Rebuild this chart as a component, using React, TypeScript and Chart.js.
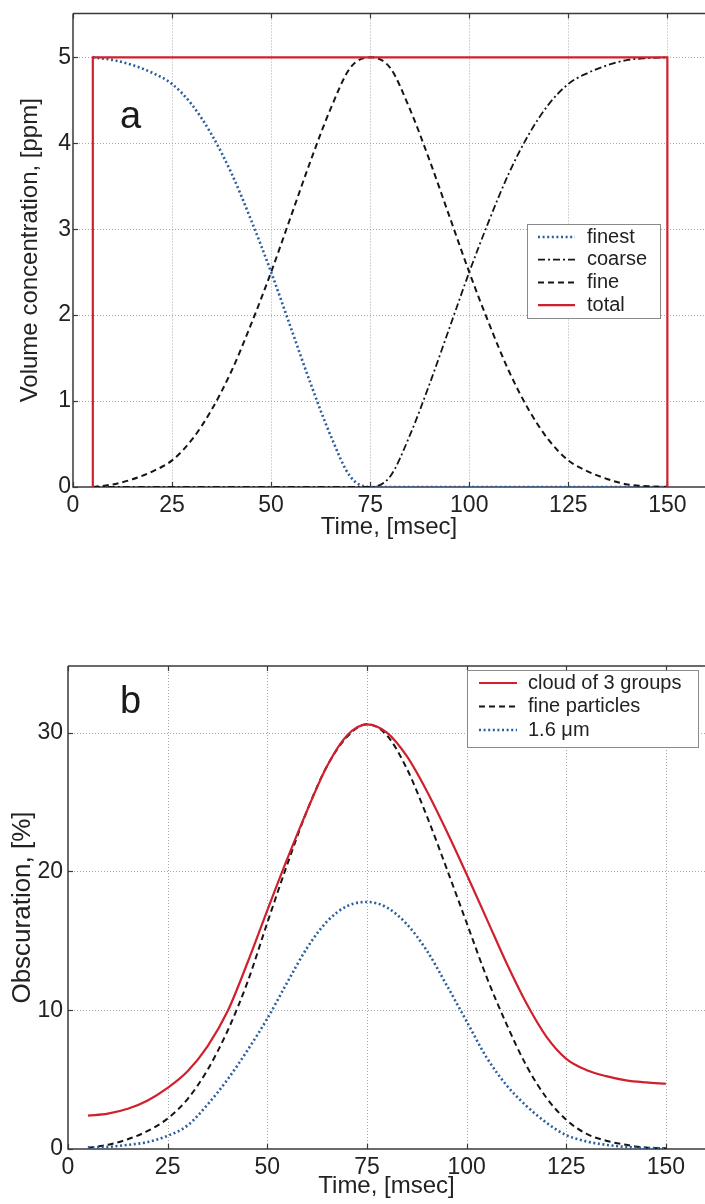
import React, { useEffect, useRef } from 'react';
import { Chart, registerables } from 'chart.js';

Chart.register(...registerables);

// ---------- Panel a data ----------
const timeA = [5, 10, 15, 20, 25, 30, 35, 40, 45, 50, 55, 60, 65, 70, 75, 80, 85, 90, 95, 100, 105, 110, 115, 120, 125, 130, 135, 140, 145, 150];
const finestA = [5.0, 4.97, 4.91, 4.82, 4.69, 4.45, 4.1, 3.65, 3.1, 2.5, 1.85, 1.2, 0.6, 0.12, 0.0, 0, 0, 0, 0, 0, 0, 0, 0, 0, 0, 0, 0, 0, 0, 0];
const coarseA = [0, 0, 0, 0, 0, 0, 0, 0, 0, 0, 0, 0, 0, 0, 0.0, 0.12, 0.6, 1.2, 1.85, 2.5, 3.1, 3.65, 4.1, 4.45, 4.69, 4.82, 4.91, 4.97, 4.99, 5.0];
const fineA = [0.0, 0.03, 0.09, 0.18, 0.31, 0.55, 0.9, 1.35, 1.9, 2.5, 3.15, 3.8, 4.4, 4.88, 5.0, 4.88, 4.4, 3.8, 3.15, 2.5, 1.9, 1.35, 0.9, 0.55, 0.31, 0.18, 0.09, 0.03, 0.01, 0.0];
const totalTimeA = [5, 5, 150, 150];
const totalA = [0, 5, 5, 0];
const yTicksA = [0, 1, 2, 3, 4, 5];
const legendLabelsA = ['finest', 'coarse', 'fine', 'total'];

// ---------- Panel b data ----------
const timeB = [5, 10, 15, 20, 25, 30, 35, 40, 45, 50, 55, 60, 65, 70, 75, 80, 85, 90, 95, 100, 105, 110, 115, 120, 125, 130, 135, 140, 145, 150];
const cloudB = [2.4, 2.55, 2.9, 3.5, 4.4, 5.6, 7.4, 9.9, 13.4, 17.2, 20.9, 24.4, 27.6, 29.8, 30.6, 30.0, 28.3, 25.8, 22.9, 19.8, 16.6, 13.4, 10.5, 8.1, 6.5, 5.7, 5.25, 4.95, 4.8, 4.7];
const fineParticlesB = [0.1, 0.3, 0.7, 1.3, 2.2, 3.6, 5.7, 8.5, 12.0, 16.3, 20.5, 24.4, 27.6, 29.7, 30.6, 29.8, 27.4, 24.0, 20.2, 16.3, 12.4, 9.0, 6.0, 3.7, 2.1, 1.1, 0.6, 0.3, 0.1, 0.05];
const micronB = [0.1, 0.15, 0.3, 0.5, 0.95, 1.7, 3.2, 5.0, 7.1, 9.4, 12.0, 14.5, 16.4, 17.5, 17.8, 17.4, 16.2, 14.3, 11.8, 9.2, 6.6, 4.6, 3.1, 1.9, 1.0, 0.55, 0.3, 0.15, 0.08, 0.05];
const yTicksB = [0, 10, 20, 30];
const legendLabelsB = ['cloud of 3 groups', 'fine particles', '1.6 μm'];

const xTicks = [0, 25, 50, 75, 100, 125, 150];

const FONT = '"Liberation Sans", Arial, Helvetica, sans-serif';
const BLUE = '#2a5e9e';
const RED = '#d0202c';
const BLACK = '#151515';

const pts = (xs: number[], ys: number[]) => xs.map((x, i) => ({ x, y: ys[i] }));

type LegendRow = { label: string; color: string; width: number; dash: number[] };
type PanelCfg = {
  letter: string;
  letterX: number;
  letterY: number;
  box: { x: number; y: number; w: number; h: number; first: number; gap: number; sx1: number; sx2: number; tx: number };
  rows: LegendRow[];
};

function panelPlugin(cfg: PanelCfg) {
  return {
    id: 'panel',
    beforeDatasetsDraw(chart: any) {
      const { ctx, chartArea: a, scales } = chart;
      const x = scales.x;
      const y = scales.y;
      ctx.save();
      // dotted grid
      ctx.strokeStyle = '#a8a8a8';
      ctx.lineWidth = 1;
      ctx.setLineDash([1, 2]);
      x.ticks.forEach((t: any) => {
        if (t.value === 0) return;
        const px = Math.round(x.getPixelForValue(t.value)) + 0.5;
        ctx.beginPath();
        ctx.moveTo(px, a.top);
        ctx.lineTo(px, a.bottom);
        ctx.stroke();
      });
      y.ticks.forEach((t: any) => {
        if (t.value === 0) return;
        const py = Math.round(y.getPixelForValue(t.value)) + 0.5;
        ctx.beginPath();
        ctx.moveTo(a.left, py);
        ctx.lineTo(a.right, py);
        ctx.stroke();
      });
      ctx.setLineDash([]);
      // axes frame
      ctx.strokeStyle = '#3a3a3a';
      ctx.lineWidth = 1.5;
      ctx.beginPath();
      ctx.moveTo(a.left, a.top);
      ctx.lineTo(a.right, a.top);
      ctx.moveTo(a.left, a.top);
      ctx.lineTo(a.left, a.bottom);
      ctx.lineTo(a.right, a.bottom);
      ctx.stroke();
      // inward tick marks
      ctx.lineWidth = 1.2;
      x.ticks.forEach((t: any) => {
        const px = Math.round(x.getPixelForValue(t.value)) + 0.5;
        ctx.beginPath();
        ctx.moveTo(px, a.bottom);
        ctx.lineTo(px, a.bottom - 5);
        ctx.moveTo(px, a.top);
        ctx.lineTo(px, a.top + 5);
        ctx.stroke();
      });
      y.ticks.forEach((t: any) => {
        const py = Math.round(y.getPixelForValue(t.value)) + 0.5;
        ctx.beginPath();
        ctx.moveTo(a.left, py);
        ctx.lineTo(a.left + 5, py);
        ctx.stroke();
      });
      ctx.restore();
    },
    afterDraw(chart: any) {
      const { ctx } = chart;
      ctx.save();
      // panel letter
      ctx.fillStyle = '#1a1a1a';
      ctx.font = `38px ${FONT}`;
      ctx.textBaseline = 'alphabetic';
      ctx.textAlign = 'left';
      ctx.fillText(cfg.letter, cfg.letterX, cfg.letterY);
      // legend
      const b = cfg.box;
      ctx.fillStyle = '#ffffff';
      ctx.fillRect(b.x, b.y, b.w, b.h);
      ctx.strokeStyle = '#8a8a8a';
      ctx.lineWidth = 1;
      ctx.strokeRect(b.x + 0.5, b.y + 0.5, b.w, b.h);
      cfg.rows.forEach((r, i) => {
        const yy = b.first + i * b.gap;
        ctx.strokeStyle = r.color;
        ctx.lineWidth = r.width;
        ctx.setLineDash(r.dash);
        ctx.beginPath();
        ctx.moveTo(b.sx1, yy);
        ctx.lineTo(b.sx2, yy);
        ctx.stroke();
        ctx.setLineDash([]);
        ctx.fillStyle = '#222';
        ctx.font = `20px ${FONT}`;
        ctx.textBaseline = 'middle';
        ctx.fillText(r.label, b.tx, yy);
      });
      ctx.restore();
    },
  };
}

const tickFont = { size: 23, family: FONT, lineHeight: 1 };
const titleFont = { size: 24, family: FONT, lineHeight: 1 };

function makeScales(opts: {
  xMax: number; yMax: number; yTicks: number[]; yTitle: string;
  yWidth: number; xHeight: number; yPad: number; yTitlePad: number; xTitlePad: number; yTitleSize: number;
}) {
  return {
    x: {
      type: 'linear',
      min: 0,
      max: opts.xMax,
      afterBuildTicks: (s: any) => { s.ticks = xTicks.map((v) => ({ value: v })); },
      afterFit: (s: any) => { s.height = opts.xHeight; },
      grid: { display: false, drawTicks: false },
      border: { display: false },
      ticks: { font: tickFont, color: '#222', padding: 7.5, maxRotation: 0, autoSkip: false, callback: (v: any) => String(v) },
      title: { display: true, text: 'Time, [msec]', font: titleFont, color: '#222', padding: { top: 0, bottom: opts.xTitlePad } },
    },
    y: {
      type: 'linear',
      min: 0,
      max: opts.yMax,
      afterBuildTicks: (s: any) => { s.ticks = opts.yTicks.map((v) => ({ value: v })); },
      afterFit: (s: any) => { s.width = opts.yWidth; },
      grid: { display: false, drawTicks: false },
      border: { display: false },
      ticks: { font: tickFont, color: '#222', padding: opts.yPad, autoSkip: false, callback: (v: any) => String(v) },
      title: { display: true, text: opts.yTitle, font: { size: opts.yTitleSize, family: FONT, lineHeight: 1 }, color: '#222', padding: { top: opts.yTitlePad, bottom: 0 } },
    },
  };
}

const lineBase = { pointRadius: 0, fill: false, cubicInterpolationMode: 'monotone' };

function configA(): any {
  const styles = [
    { color: BLUE, width: 2.6, dash: [2, 2.6] },
    { color: BLACK, width: 1.8, dash: [7, 3, 2, 3] },
    { color: BLACK, width: 2, dash: [6, 4] },
    { color: RED, width: 2.2, dash: [] as number[] },
  ];
  return {
    type: 'line',
    data: {
      datasets: [
        { ...lineBase, label: legendLabelsA[3], data: pts(totalTimeA, totalA), borderColor: RED, borderWidth: 2.2, tension: 0, cubicInterpolationMode: 'default' },
        { ...lineBase, label: legendLabelsA[1], data: pts(timeA, coarseA), borderColor: BLACK, borderWidth: 1.8, borderDash: styles[1].dash },
        { ...lineBase, label: legendLabelsA[2], data: pts(timeA, fineA), borderColor: BLACK, borderWidth: 2, borderDash: styles[2].dash },
        { ...lineBase, label: legendLabelsA[0], data: pts(timeA, finestA), borderColor: BLUE, borderWidth: 2.6, borderDash: styles[0].dash },
      ],
    },
    options: {
      responsive: false,
      devicePixelRatio: 1,
      animation: false,
      layout: { padding: { top: 12, left: 0, right: 0, bottom: 0 } },
      plugins: { legend: { display: false }, tooltip: { enabled: false } },
      scales: makeScales({ xMax: 159.5, yMax: 5.51, yTicks: yTicksA, yTitle: 'Volume concentration, [ppm]', yWidth: 73, xHeight: 73, yPad: 2, yTitlePad: 18, xTitlePad: 21, yTitleSize: 24 }),
    },
    plugins: [
      panelPlugin({
        letter: 'a', letterX: 120, letterY: 128,
        box: { x: 527, y: 224, w: 133, h: 94, first: 237, gap: 22.7, sx1: 538, sx2: 575, tx: 587 },
        rows: legendLabelsA.map((l, i) => ({ label: l, ...styles[i] })),
      }),
    ],
  };
}

function configB(): any {
  const styles = [
    { color: RED, width: 2.2, dash: [] as number[] },
    { color: BLACK, width: 2, dash: [6, 4] },
    { color: BLUE, width: 2.6, dash: [2, 2.6] },
  ];
  return {
    type: 'line',
    data: {
      datasets: [
        { ...lineBase, label: legendLabelsB[2], data: pts(timeB, micronB), borderColor: BLUE, borderWidth: 2.6, borderDash: styles[2].dash },
        { ...lineBase, label: legendLabelsB[0], data: pts(timeB, cloudB), borderColor: RED, borderWidth: 2.2 },
        { ...lineBase, label: legendLabelsB[1], data: pts(timeB, fineParticlesB), borderColor: BLACK, borderWidth: 2, borderDash: styles[1].dash },
      ],
    },
    options: {
      responsive: false,
      devicePixelRatio: 1,
      animation: false,
      layout: { padding: { top: 106, left: 0, right: 0, bottom: 0 } },
      plugins: { legend: { display: false }, tooltip: { enabled: false } },
      scales: makeScales({ xMax: 159.8, yMax: 34.8, yTicks: yTicksB, yTitle: 'Obscuration, [%]', yWidth: 68, xHeight: 55, yPad: 5, yTitlePad: 10, xTitlePad: 6, yTitleSize: 26 }),
    },
    plugins: [
      panelPlugin({
        letter: 'b', letterX: 120, letterY: 153,
        box: { x: 467, y: 110, w: 231, h: 77, first: 123, gap: 23.5, sx1: 479, sx2: 517, tx: 528 },
        rows: legendLabelsB.map((l, i) => ({ label: l, ...styles[i] })),
      }),
    ],
  };
}

export default function App() {
  const refA = useRef<HTMLCanvasElement>(null);
  const refB = useRef<HTMLCanvasElement>(null);
  useEffect(() => {
    const a = new Chart(refA.current as HTMLCanvasElement, configA());
    const b = new Chart(refB.current as HTMLCanvasElement, configB());
    return () => {
      a.destroy();
      b.destroy();
    };
  }, []);
  return (
    <div style={{ position: 'absolute', left: 0, top: 0, width: 705, height: 1204, background: '#fff', overflow: 'hidden' }}>
      <canvas ref={refA} width={705} height={560} style={{ position: 'absolute', left: 0, top: 0, width: 705, height: 560, display: 'block' }} />
      <canvas ref={refB} width={705} height={644} style={{ position: 'absolute', left: 0, top: 560, width: 705, height: 644, display: 'block' }} />
    </div>
  );
}
